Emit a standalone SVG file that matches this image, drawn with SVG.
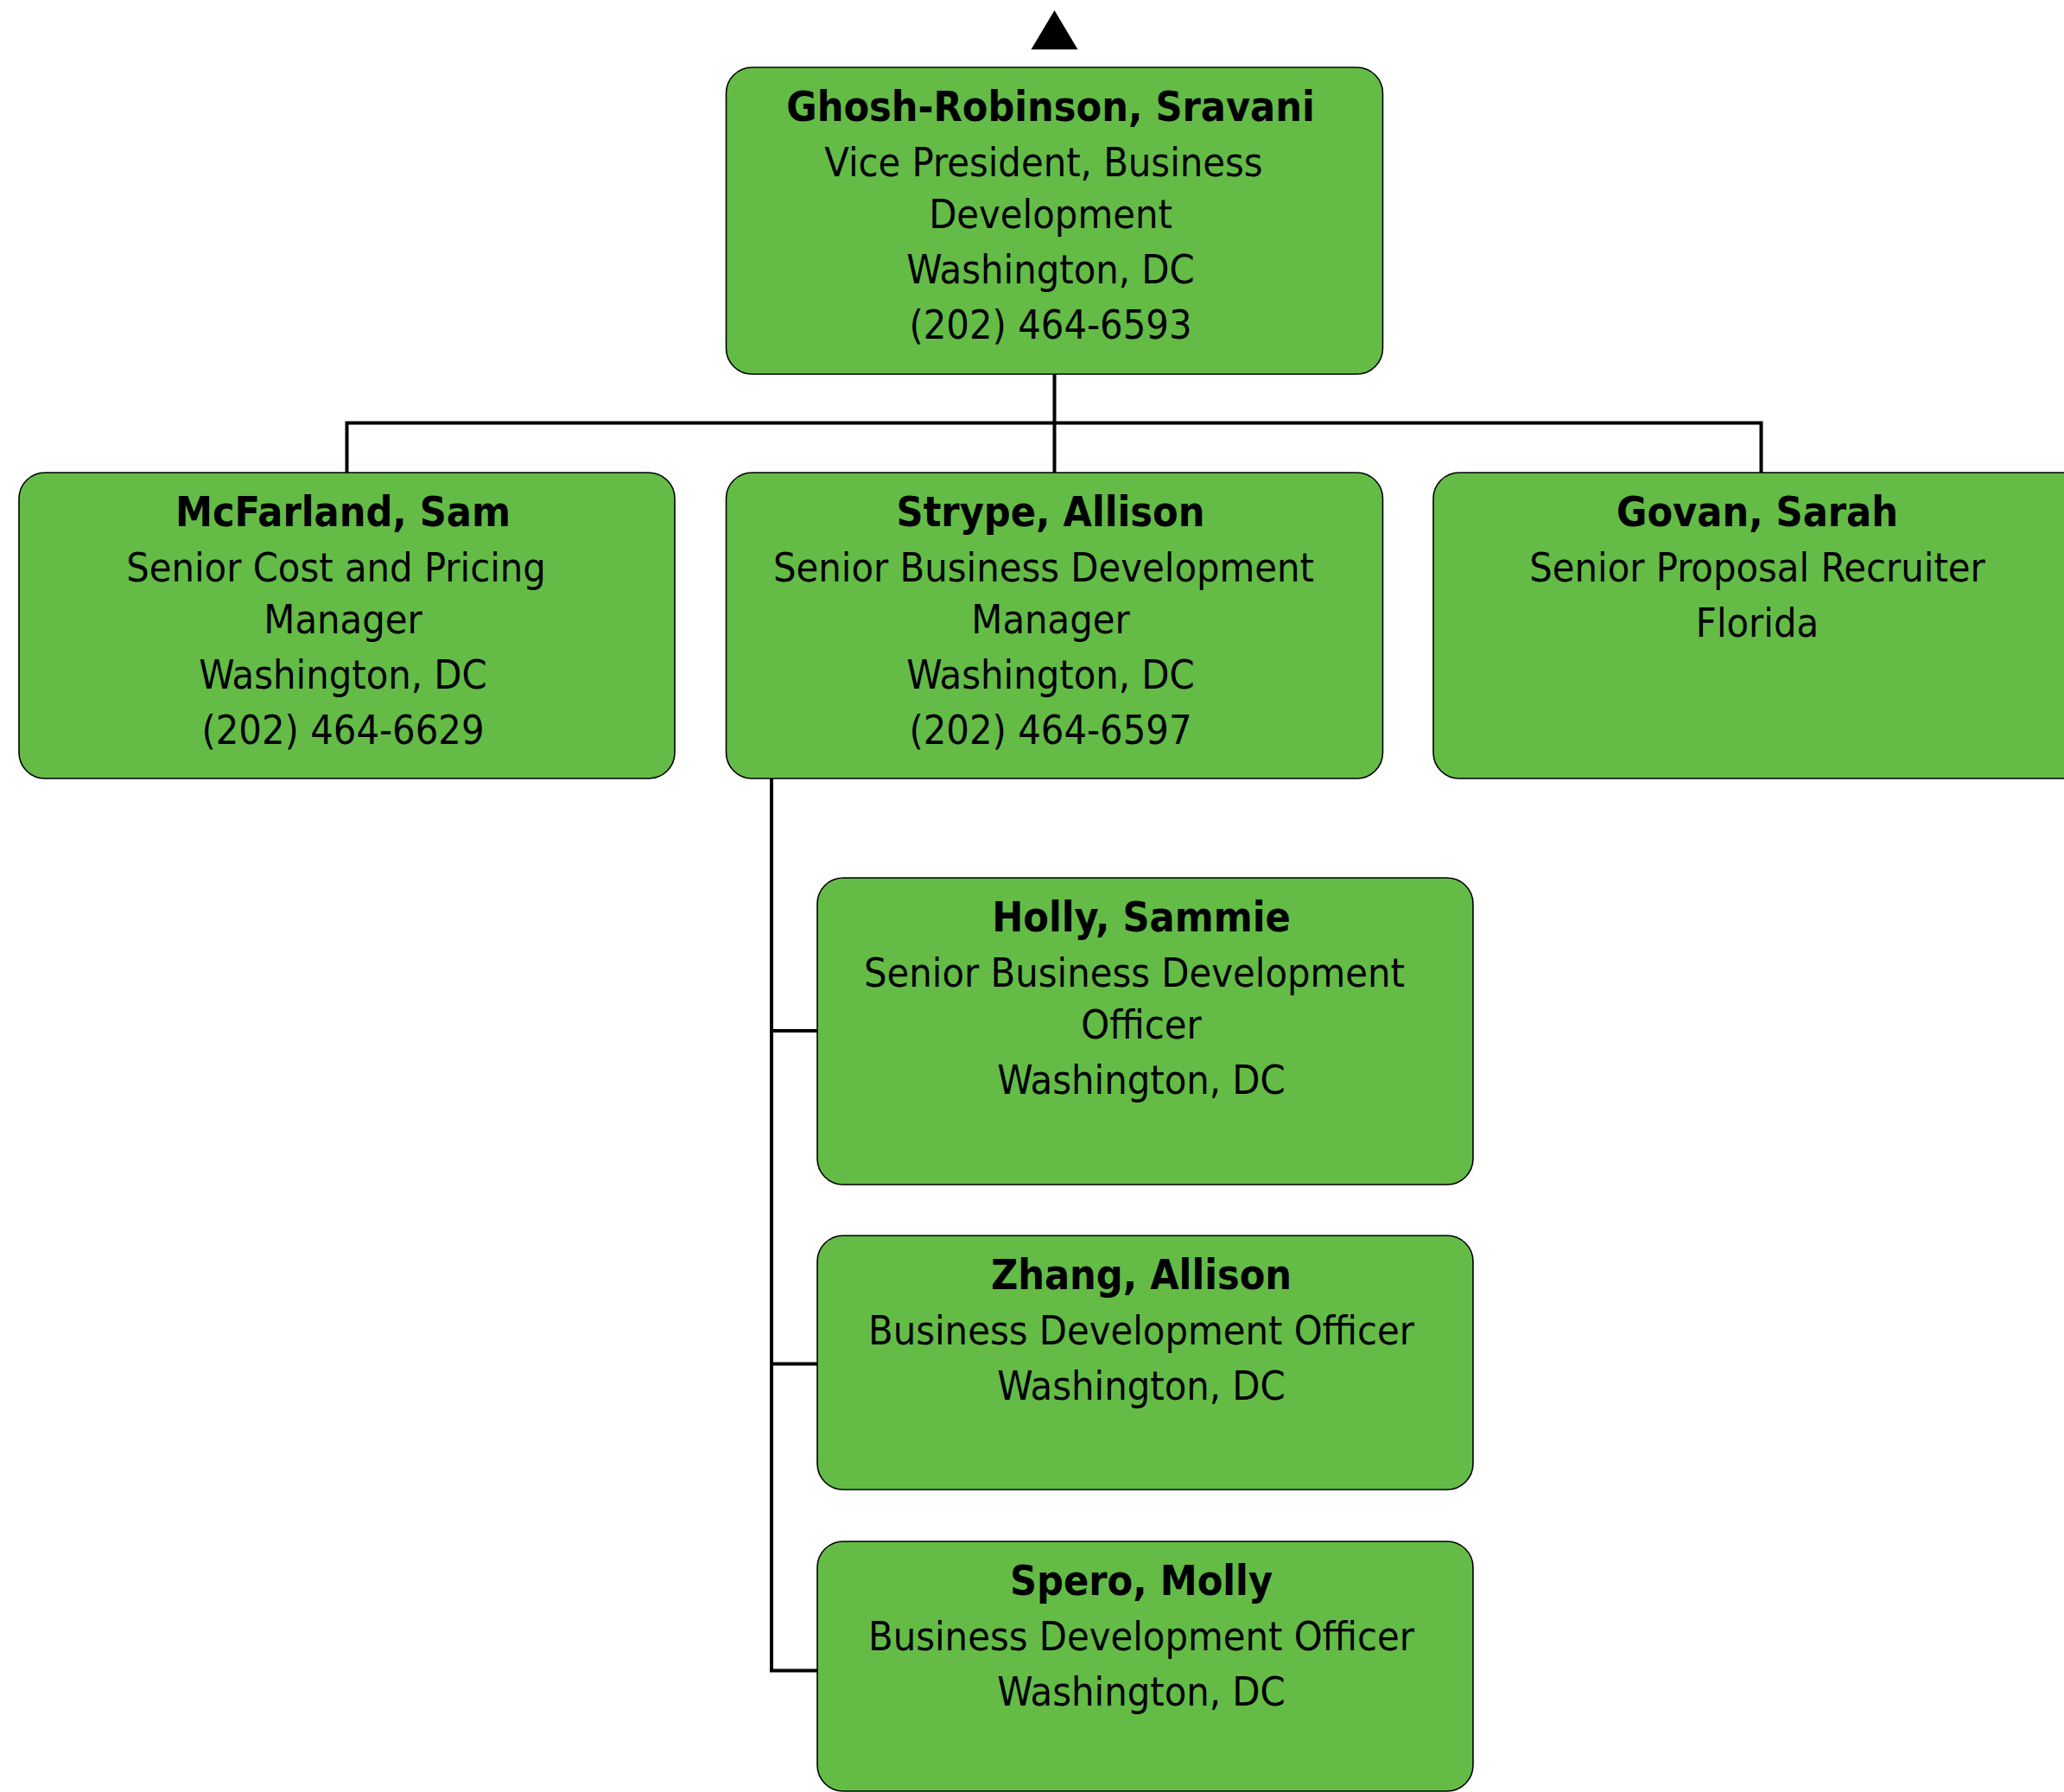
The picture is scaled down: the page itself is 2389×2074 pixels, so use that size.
<svg xmlns="http://www.w3.org/2000/svg" width="2389" height="2074" viewBox="0 0 2389 2074">
<style>
.box{fill:#64BC47;stroke:#000;stroke-width:1.6}
.t{font-family:"DejaVu Sans Condensed","DejaVu Sans",sans-serif;font-stretch:condensed;font-size:46.5px;fill:#000;text-anchor:middle}
.b{font-weight:bold;font-size:48px}
.c{fill:none;stroke:#000;stroke-width:4;stroke-linejoin:miter}
</style>
<rect width="2389" height="2074" fill="#fff"/>
<g id="connectors">
<polygon points="1220.5,12 1247.5,57.3 1193.5,57.3" fill="#000"/>
<path class="c" d="M1220.5 433 V547"/>
<path class="c" d="M401.5 547 V489.5 H2038.5 V547"/>
<path class="c" d="M893 901 V1933.5 H946"/>
<path class="c" d="M893 1193 H946"/>
<path class="c" d="M893 1578.5 H946"/>
</g>
<g id="node-ghosh">
<rect class="box" x="840.5" y="78" width="760" height="355" rx="30"/>
<text class="t b" x="1216" y="140">Ghosh-Robinson, Sravani</text>
<text class="t" x="1208" y="204">Vice President, Business</text>
<text class="t" x="1216" y="264">Development</text>
<text class="t" x="1216" y="328">Washington, DC</text>
<text class="t" x="1216" y="392">(202) 464-6593</text>
</g>
<g id="node-mcfarland">
<rect class="box" x="22" y="547" width="759" height="354" rx="30"/>
<text class="t b" x="397" y="609">McFarland, Sam</text>
<text class="t" x="389" y="673">Senior Cost and Pricing</text>
<text class="t" x="397" y="733">Manager</text>
<text class="t" x="397" y="797">Washington, DC</text>
<text class="t" x="397" y="861">(202) 464-6629</text>
</g>
<g id="node-strype">
<rect class="box" x="840.5" y="547" width="760" height="354" rx="30"/>
<text class="t b" x="1216" y="609">Strype, Allison</text>
<text class="t" x="1208" y="673">Senior Business Development</text>
<text class="t" x="1216" y="733">Manager</text>
<text class="t" x="1216" y="797">Washington, DC</text>
<text class="t" x="1216" y="861">(202) 464-6597</text>
</g>
<g id="node-govan">
<rect class="box" x="1659" y="547" width="759" height="354" rx="30"/>
<text class="t b" x="2034" y="609">Govan, Sarah</text>
<text class="t" x="2034" y="673">Senior Proposal Recruiter</text>
<text class="t" x="2034" y="737">Florida</text>
</g>
<g id="node-holly">
<rect class="box" x="946" y="1016" width="759" height="355" rx="30"/>
<text class="t b" x="1321" y="1078">Holly, Sammie</text>
<text class="t" x="1313" y="1142">Senior Business Development</text>
<text class="t" x="1321" y="1202">Officer</text>
<text class="t" x="1321" y="1266">Washington, DC</text>
</g>
<g id="node-zhang">
<rect class="box" x="946" y="1430" width="759" height="294" rx="30"/>
<text class="t b" x="1321" y="1492">Zhang, Allison</text>
<text class="t" x="1321" y="1556">Business Development Officer</text>
<text class="t" x="1321" y="1620">Washington, DC</text>
</g>
<g id="node-spero">
<rect class="box" x="946" y="1784" width="759" height="289" rx="30"/>
<text class="t b" x="1321" y="1846">Spero, Molly</text>
<text class="t" x="1321" y="1910">Business Development Officer</text>
<text class="t" x="1321" y="1974">Washington, DC</text>
</g>
</svg>
